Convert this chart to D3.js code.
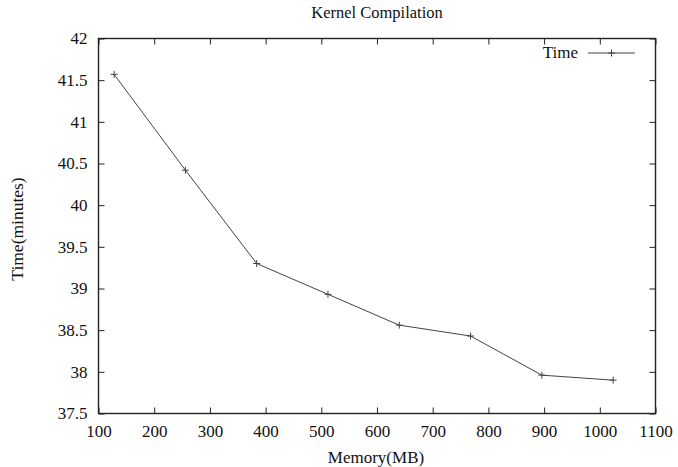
<!DOCTYPE html>
<html>
<head>
<meta charset="utf-8">
<script src="https://cdn.jsdelivr.net/npm/d3@7"></script>
<style>
  html, body { margin: 0; padding: 0; background: #fff; }
  svg text { font-family: "Liberation Serif", "DejaVu Serif", serif; fill: #111; }
</style>
</head>
<body>
<svg id="chart" width="678" height="467"></svg>
<script>
// Kernel compilation time versus memory size
const memoryMB = [128, 256, 384, 512, 640, 768, 896, 1024];
const timeMinutes = [41.57, 40.42, 39.30, 38.93, 38.56, 38.43, 37.96, 37.90];
const xTicks = [100, 200, 300, 400, 500, 600, 700, 800, 900, 1000, 1100];
const yTicks = [37.5, 38, 38.5, 39, 39.5, 40, 40.5, 41, 41.5, 42];
const seriesName = "Time";

(function () {
  const svg = d3.select("#chart");
  const plotLeft = 98.5, plotRight = 655.5, plotTop = 38.5, plotBottom = 413.5;
  const serif = "'Liberation Serif', 'DejaVu Serif', serif";

  const x = d3.scaleLinear().domain([100, 1100]).range([plotLeft, plotRight]);
  const y = d3.scaleLinear().domain([37.5, 42]).range([plotBottom, plotTop]);

  const tickLen = 6;
  const axisColor = "#222";

  function styleAxis(g) {
    g.attr("font-family", null).attr("font-size", null);
    g.select(".domain").remove();
    g.selectAll("line").attr("stroke", axisColor);
    g.selectAll("text")
      .style("font-family", serif)
      .style("font-size", "17px")
      .attr("fill", "#111");
  }

  // frame
  svg.append("rect")
    .attr("x", plotLeft).attr("y", plotTop)
    .attr("width", plotRight - plotLeft).attr("height", plotBottom - plotTop)
    .attr("fill", "none").attr("stroke", axisColor).attr("stroke-width", 1.4);

  // bottom axis: inward ticks with labels
  svg.append("g").attr("transform", `translate(0,${plotBottom})`)
    .call(d3.axisBottom(x).tickValues(xTicks).tickSize(-tickLen).tickPadding(11).tickFormat(d3.format("d")))
    .call(styleAxis);

  // top mirrored ticks
  svg.append("g").attr("transform", `translate(0,${plotTop})`)
    .call(d3.axisTop(x).tickValues(xTicks).tickSize(-tickLen).tickFormat(""))
    .call(styleAxis);

  // left axis
  svg.append("g").attr("transform", `translate(${plotLeft},0)`)
    .call(d3.axisLeft(y).tickValues(yTicks).tickSize(-tickLen).tickPadding(11).tickFormat(d => String(d)))
    .call(styleAxis);

  // right mirrored ticks
  svg.append("g").attr("transform", `translate(${plotRight},0)`)
    .call(d3.axisRight(y).tickValues(yTicks).tickSize(-tickLen).tickFormat(""))
    .call(styleAxis);

  // data line
  const pts = memoryMB.map((m, i) => [m, timeMinutes[i]]);
  svg.append("path")
    .datum(pts)
    .attr("fill", "none")
    .attr("stroke", "#444")
    .attr("stroke-width", 1)
    .attr("d", d3.line().x(d => x(d[0])).y(d => y(d[1])));

  // plus markers
  const markSize = 3.5;
  function drawPlus(g, cx, cy) {
    g.append("path")
      .attr("d", `M${cx - markSize},${cy}H${cx + markSize}M${cx},${cy - markSize}V${cy + markSize}`)
      .attr("stroke", "#444").attr("stroke-width", 1).attr("fill", "none");
  }
  const gm = svg.append("g");
  pts.forEach(d => drawPlus(gm, x(d[0]), y(d[1])));

  // legend
  svg.append("text").attr("x", 578).attr("y", 58).attr("text-anchor", "end")
    .style("font-size", "17px").text(seriesName);
  svg.append("line").attr("x1", 588).attr("x2", 635).attr("y1", 53).attr("y2", 53)
    .attr("stroke", "#444").attr("stroke-width", 1);
  drawPlus(svg, 611.5, 53);

  // title and axis labels
  svg.append("text").attr("x", 377).attr("y", 18).attr("text-anchor", "middle")
    .style("font-size", "16.5px").text("Kernel Compilation");
  svg.append("text").attr("x", 376).attr("y", 463).attr("text-anchor", "middle")
    .style("font-size", "17px").text("Memory(MB)");
  svg.append("text").attr("transform", "translate(23,229) rotate(-90)").attr("text-anchor", "middle")
    .style("font-size", "17.5px").text("Time(minutes)");
})();
</script>
</body>
</html>
